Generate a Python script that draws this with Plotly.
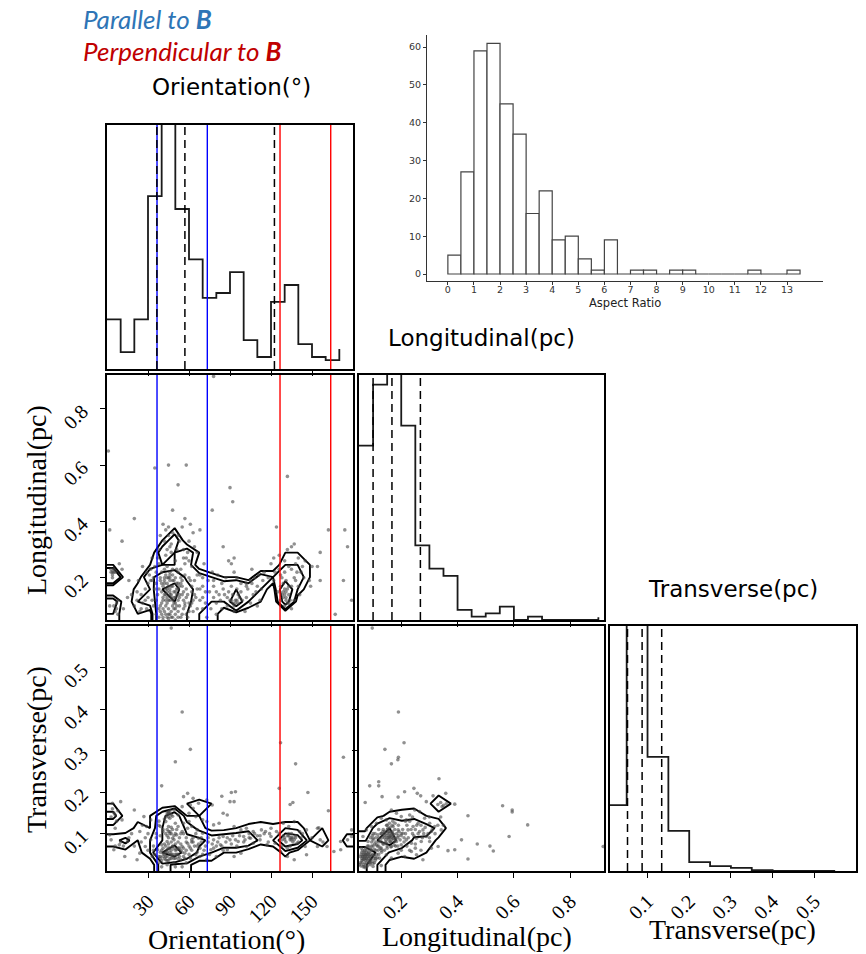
import numpy as np
import plotly.graph_objects as go

W, H = 866, 954

# ---------------- data ----------------
orientation_bins = [0, 10, 20, 30, 40, 50, 60, 70, 80, 90, 100, 110, 120, 130, 140, 150, 160, 170]
orientation_hist = [6.2, 2.1, 6.2, 21.6, 34.0, 20.0, 13.7, 8.9, 9.5, 12.1, 3.6, 1.5, 8.4, 10.5, 3.1, 1.5, 1.1, 2.5]

long_bins = [0.05, 0.10, 0.15, 0.20, 0.25, 0.30, 0.35, 0.40, 0.45, 0.50, 0.55, 0.60, 0.65, 0.70, 0.75, 0.80, 0.85, 0.90]
long_hist = [21.7, 29.3, 34.0, 24.2, 9.3, 6.4, 5.5, 1.25, 0.42, 0.83, 1.67, 0.0, 0.42, 0.0, 0.0, 0.0, 0.0, 0.33]

trans_bins = [0.0, 0.05, 0.10, 0.15, 0.20, 0.25, 0.30, 0.35, 0.40, 0.45, 0.50, 0.55]
trans_hist = [8.2, 34.0, 14.2, 5.0, 1.1, 0.6, 0.4, 0.12, 0.0, 0.0, 0.0, 0.0]

orientation_quantiles = [36.5, 57.0, 122.5]
long_quantiles = [0.100, 0.167, 0.268]
trans_quantiles = [0.052, 0.087, 0.134]

parallel_lines = [36.6, 73.4]
perpendicular_lines = [126.6, 163.7]

aspect_bin_left = [0, 0.5, 1, 1.5, 2, 2.5, 3, 3.5, 4, 4.5, 5, 5.5, 6, 6.5, 7, 7.5, 8, 8.5, 9,
                   9.5, 10, 10.5, 11, 11.5, 12, 12.5, 13]
aspect_counts = [5, 27, 59, 61, 45, 37, 16, 22, 9, 10, 4, 1, 9, 0, 1, 1, 0, 1, 1,
                 0, 0, 0, 0, 1, 0, 0, 1]
aspect_ticks = [0, 1, 2, 3, 4, 5, 6, 7, 8, 9, 10, 11, 12, 13]
aspect_yticks = [0, 10, 20, 30, 40, 50, 60]

orient_ticks = [30, 60, 90, 120, 150]
long_ticks = [0.2, 0.4, 0.6, 0.8]
trans_ticks = [0.1, 0.2, 0.3, 0.4, 0.5]

# scatter: Orientation vs Longitudinal
ol_orient_a = [52, 90, 92, 20, 48, 77, 2, 11, 41, 45, 43, 45, 39, 60, 46, 44, 47, 51, 56, 59,
               56, 60, 64, 66, 71, 85, 91, 93, 89, 93, 95, 106, 111, 105, 114, 102, 124, 126, 132, 135,
               137, 140, 143, 145, 150, 148, 156, 154, 162, 174, 176, 173, 179, 167, 16, 22, 32, 33, 36, 39,
               43, 46, 49, 52, 55, 59, 61, 62, 65, 68, 72, 50, 51, 54, 57, 54, 41, 44, 46, 50,
               52, 41, 40, 43, 45, 49, 51, 56, 60, 63, 29, 24, 22, 15, 78, 80, 78, 83, 76, 84,
               89, 91, 96, 99, 102, 107, 109, 112, 101, 93, 73, 80, 122, 127, 129, 128, 133, 134, 137, 140,
               141, 132, 135, 138, 120, 122, 130, 133, 126, 137, 144, 149, 61, 63, 68, 37, 35, 29, 32, 26,
               23, 18, 9, 11, 156, 1, 35, 45, 58, 132, 78]
ol_long_a = [0.53, 0.52, 0.47, 0.41, 0.44, 0.44, 0.37, 0.33, 0.39, 0.38, 0.37, 0.35, 0.35, 0.33, 0.31, 0.30, 0.29, 0.30, 0.30, 0.29,
             0.27, 0.26, 0.31, 0.29, 0.25, 0.31, 0.25, 0.27, 0.26, 0.22, 0.20, 0.23, 0.21, 0.19, 0.19, 0.18, 0.38, 0.23, 0.30, 0.31,
             0.32, 0.27, 0.24, 0.26, 0.24, 0.19, 0.29, 0.24, 0.37, 0.37, 0.31, 0.19, 0.12, 0.07, 0.19, 0.15, 0.19, 0.12, 0.18, 0.20,
             0.21, 0.20, 0.19, 0.18, 0.17, 0.14, 0.19, 0.11, 0.13, 0.12, 0.15, 0.26, 0.23, 0.23, 0.25, 0.20, 0.17, 0.15, 0.14, 0.13,
             0.12, 0.13, 0.11, 0.10, 0.09, 0.09, 0.10, 0.09, 0.08, 0.08, 0.09, 0.08, 0.12, 0.13, 0.19, 0.15, 0.13, 0.12, 0.09, 0.09,
             0.15, 0.17, 0.14, 0.12, 0.13, 0.14, 0.15, 0.12, 0.08, 0.08, 0.06, 0.07, 0.19, 0.17, 0.15, 0.14, 0.14, 0.12, 0.12, 0.17,
             0.14, 0.11, 0.09, 0.19, 0.25, 0.27, 0.26, 0.24, 0.28, 0.20, 0.20, 0.17, 0.39, 0.36, 0.37, 0.27, 0.24, 0.22, 0.23, 0.24,
             0.19, 0.14, 0.25, 0.23, 0.19, 0.65, 0.59, 0.60, 0.60, 0.56, 0.915]
ol_orient_b = [42, 44, 46, 48, 47, 45, 43, 40, 49, 51, 53, 38, 42, 46, 48, 44, 46, 48, 50, 42,
               38, 36, 52, 54, 58, 40, 44, 50, 56, 58, 60, 62, 64, 66, 68, 70, 34, 30, 28, 26,
               3, 5, 4, 2, 6, 8, 92, 94, 96, 90, 97, 88, 129, 130, 131, 133, 128, 130,
               38, 40, 41, 43, 44, 46, 47, 48, 45, 42, 39, 37, 36, 39, 47, 49, 51, 53, 55, 57,
               55, 57, 53, 50, 45, 41, 59, 61, 63, 35, 33, 31, 28, 25, 33, 38, 42, 48, 53, 58,
               62, 66, 70, 74, 77, 81, 84, 87, 95, 98, 103, 108, 115, 118, 123, 110, 105, 86, 80, 70,
               125, 131, 135, 139, 127, 130, 4, 6, 7, 12, 8]
ol_long_b = [0.18, 0.16, 0.19, 0.17, 0.13, 0.12, 0.14, 0.15, 0.15, 0.16, 0.14, 0.16, 0.20, 0.22, 0.21, 0.06, 0.07, 0.06, 0.07, 0.08,
             0.09, 0.07, 0.08, 0.06, 0.07, 0.22, 0.24, 0.11, 0.12, 0.16, 0.20, 0.17, 0.14, 0.09, 0.16, 0.20, 0.10, 0.13, 0.16, 0.11,
             0.22, 0.23, 0.21, 0.10, 0.08, 0.12, 0.11, 0.12, 0.11, 0.12, 0.13, 0.10, 0.18, 0.16, 0.13, 0.11, 0.20, 0.22,
             0.06, 0.07, 0.09, 0.12, 0.13, 0.16, 0.17, 0.19, 0.20, 0.23, 0.19, 0.14, 0.12, 0.08, 0.08, 0.11, 0.14, 0.17, 0.19, 0.21,
             0.14, 0.10, 0.10, 0.05, 0.055, 0.05, 0.06, 0.10, 0.12, 0.16, 0.19, 0.21, 0.12, 0.14, 0.27, 0.30, 0.33, 0.36, 0.33, 0.27,
             0.24, 0.21, 0.17, 0.19, 0.22, 0.21, 0.18, 0.20, 0.16, 0.18, 0.16, 0.20, 0.22, 0.20, 0.22, 0.10, 0.11, 0.14, 0.11, 0.09,
             0.15, 0.19, 0.17, 0.22, 0.12, 0.10, 0.20, 0.22, 0.11, 0.09, 0.07]
ol_orient_c = [39, 41, 42, 43, 44, 45, 46, 47, 48, 49, 50, 51, 52, 53, 44, 46, 48, 50, 45, 47,
               43, 41, 52, 55, 57, 40, 42, 44, 46, 48, 50, 52, 54, 56, 58, 60, 62, 64, 66, 68,
               70, 72, 75, 78, 82, 85, 88, 92, 95, 93, 91, 94, 98, 102, 106, 110, 113, 130, 131, 132,
               129, 133, 131, 127, 135, 138, 142, 4, 5, 3, 5, 7, 20, 25, 30, 34, 36, 38, 43, 47,
               52, 55, 57]
ol_long_c = [0.10, 0.12, 0.14, 0.16, 0.18, 0.17, 0.15, 0.14, 0.12, 0.13, 0.15, 0.18, 0.16, 0.13, 0.11, 0.12, 0.10, 0.09, 0.07, 0.06,
             0.07, 0.06, 0.06, 0.07, 0.11, 0.18, 0.19, 0.20, 0.21, 0.23, 0.20, 0.22, 0.18, 0.15, 0.13, 0.11, 0.15, 0.19, 0.16, 0.21,
             0.13, 0.11, 0.15, 0.17, 0.14, 0.16, 0.13, 0.14, 0.12, 0.10, 0.12, 0.11, 0.15, 0.17, 0.18, 0.17, 0.16, 0.14, 0.15, 0.16,
             0.13, 0.17, 0.12, 0.21, 0.23, 0.25, 0.22, 0.22, 0.22, 0.23, 0.10, 0.09, 0.10, 0.09, 0.18, 0.20, 0.22, 0.25, 0.28, 0.32,
             0.35, 0.38, 0.41]
ol_orient = ol_orient_a + ol_orient_b + ol_orient_c
ol_long = ol_long_a + ol_long_b + ol_long_c

# scatter: Orientation vs Transverse
ot_orient_a = [50, 138, 40, 84, 91, 94, 90, 93, 147, 126, 10, 4, 56, 59, 63, 67, 61, 55, 49, 52,
               60, 65, 70, 73, 78, 82, 85, 88, 93, 98, 102, 107, 113, 120, 124, 129, 133, 137, 146, 154,
               162, 171, 176, 179, 166, 161, 154, 145, 139, 134, 132, 128, 127, 123, 120, 117, 132, 137, 146, 112,
               107, 102, 98, 93, 88, 83, 78, 76, 80, 73, 68, 65, 61, 57, 54, 50, 46, 43, 39, 37,
               40, 44, 48, 51, 55, 59, 62, 66, 70, 67, 62, 59, 55, 51, 48, 44, 41, 45, 41, 39,
               43, 46, 50, 52, 56, 60, 63, 32, 27, 29, 24, 32, 28, 24, 33, 22, 15, 9, 5, 13,
               6, 2, 11, 20, 73, 77, 85, 90, 96, 100, 105, 156, 141, 171,
               55, 61, 173, 127, 47, 155, 179]
ot_trans_a = [0.273, 0.268, 0.215, 0.190, 0.199, 0.201, 0.177, 0.177, 0.199, 0.209, 0.177, 0.173, 0.189, 0.197, 0.185, 0.173, 0.169, 0.165, 0.157, 0.145,
              0.149, 0.141, 0.133, 0.129, 0.121, 0.125, 0.149, 0.145, 0.117, 0.109, 0.113, 0.105, 0.109, 0.113, 0.105, 0.125, 0.117, 0.129, 0.109, 0.113,
              0.155, 0.081, 0.085, 0.093, 0.057, 0.069, 0.069, 0.069, 0.077, 0.085, 0.065, 0.085, 0.057, 0.077, 0.093, 0.073, 0.045, 0.037, 0.049, 0.085,
              0.077, 0.069, 0.053, 0.045, 0.061, 0.073, 0.085, 0.061, 0.045, 0.037, 0.045, 0.049, 0.041, 0.053, 0.037, 0.041, 0.049, 0.037, 0.045, 0.061,
              0.073, 0.081, 0.089, 0.097, 0.105, 0.113, 0.117, 0.109, 0.101, 0.089, 0.085, 0.077, 0.069, 0.061, 0.069, 0.061, 0.053, 0.117, 0.105, 0.117,
              0.129, 0.137, 0.125, 0.117, 0.125, 0.129, 0.161, 0.133, 0.141, 0.117, 0.105, 0.085, 0.069, 0.053, 0.045, 0.037, 0.081, 0.073, 0.061, 0.045,
              0.113, 0.097, 0.133, 0.157, 0.181, 0.169, 0.093, 0.085, 0.081, 0.093, 0.089, 0.085, 0.105, 0.061,
              0.393, 0.303, 0.284, 0.319, 0.595, 0.114, 0.109]
ot_orient_b = [42, 44, 46, 48, 50, 45, 43, 47, 49, 52, 54, 40, 46, 44, 45, 47, 45, 46, 44, 38,
               40, 44, 50, 55, 58, 60, 62, 64, 66, 68, 70, 75, 80, 85, 35, 34, 36, 38, 30, 28,
               26, 62, 58, 56, 52, 54, 135, 136, 134, 137, 133, 131, 134, 136,
               42, 44, 46, 48, 50, 52, 43, 41, 47, 49, 53, 45, 47, 49, 44, 46, 48, 50, 45, 47,
               43, 38, 36, 34, 39, 56, 58, 60, 63, 65, 67, 69, 72, 74, 77, 82, 87, 92, 95, 100,
               104, 110, 115, 118, 126, 128, 130, 133, 135, 138, 140, 143, 150, 158, 30, 25, 20, 18, 3, 5, 7]
ot_trans_b = [0.050, 0.045, 0.055, 0.050, 0.060, 0.065, 0.070, 0.040, 0.030, 0.050, 0.060, 0.060, 0.100, 0.110, 0.090, 0.100, 0.150, 0.155, 0.150, 0.030,
              0.020, 0.025, 0.020, 0.020, 0.030, 0.050, 0.060, 0.070, 0.055, 0.065, 0.050, 0.050, 0.070, 0.060, 0.050, 0.070, 0.100, 0.120, 0.060, 0.090,
              0.120, 0.080, 0.090, 0.100, 0.080, 0.100, 0.090, 0.080, 0.070, 0.085, 0.100, 0.080, 0.170, 0.175,
              0.040, 0.035, 0.040, 0.045, 0.050, 0.040, 0.055, 0.045, 0.060, 0.065, 0.065, 0.075, 0.080, 0.085, 0.095, 0.105, 0.110, 0.100, 0.140, 0.145,
              0.140, 0.130, 0.090, 0.060, 0.040, 0.045, 0.060, 0.070, 0.090, 0.100, 0.075, 0.080, 0.070, 0.090, 0.075, 0.090, 0.080, 0.095, 0.070, 0.080,
              0.100, 0.095, 0.100, 0.080, 0.100, 0.070, 0.090, 0.095, 0.085, 0.090, 0.080, 0.100, 0.090, 0.080, 0.100, 0.080, 0.070, 0.100, 0.140, 0.150, 0.130]
ot_orient_c = [38, 39, 40, 41, 42, 43, 44, 45, 46, 47, 48, 49, 50, 51, 52, 53, 54, 55, 56, 57,
               39, 41, 43, 45, 47, 49, 51, 53, 44, 46, 45, 48, 42, 58, 61, 63, 66, 69, 71, 74,
               78, 81, 84, 88, 91, 94, 97, 101, 104, 108, 112, 116, 119, 130, 132, 134, 135, 136, 138, 129,
               142, 8, 6, 4, 10, 12, 6, 16, 3]
ot_trans_c = [0.045, 0.055, 0.035, 0.065, 0.075, 0.045, 0.055, 0.035, 0.065, 0.050, 0.070, 0.040, 0.075, 0.050, 0.065, 0.045, 0.075, 0.055, 0.065, 0.040,
              0.095, 0.110, 0.100, 0.105, 0.115, 0.095, 0.110, 0.090, 0.145, 0.148, 0.152, 0.142, 0.135, 0.080, 0.065, 0.080, 0.070, 0.090, 0.060, 0.080,
              0.065, 0.080, 0.070, 0.090, 0.075, 0.085, 0.095, 0.085, 0.090, 0.100, 0.095, 0.105, 0.100, 0.085, 0.095, 0.090, 0.100, 0.090, 0.095, 0.095,
              0.090, 0.155, 0.145, 0.160, 0.080, 0.070, 0.070, 0.090, 0.085]
ot_orient = ot_orient_a + ot_orient_b + ot_orient_c
ot_trans = ot_trans_a + ot_trans_b + ot_trans_c

# scatter: Longitudinal vs Transverse
lt_long_a = [0.165, 0.188, 0.088, 0.120, 0.120, 0.072, 0.132, 0.189, 0.212, 0.245, 0.257, 0.269, 0.289, 0.313, 0.334, 0.358, 0.390, 0.437, 0.470, 0.437,
             0.414, 0.390, 0.366, 0.342, 0.319, 0.307, 0.301, 0.283, 0.265, 0.248, 0.230, 0.218, 0.200, 0.183, 0.165, 0.147, 0.129, 0.112, 0.094, 0.076,
             0.064, 0.082, 0.100, 0.117, 0.135, 0.153, 0.171, 0.189, 0.206, 0.224, 0.242, 0.260, 0.277, 0.289, 0.271, 0.254, 0.236, 0.218, 0.200, 0.183,
             0.165, 0.147, 0.129, 0.112, 0.094, 0.076, 0.058, 0.064, 0.088, 0.106, 0.123, 0.147, 0.165, 0.189, 0.212, 0.236, 0.254, 0.277, 0.307, 0.331,
             0.301, 0.052, 0.070, 0.100, 0.129, 0.159, 0.159, 0.165, 0.174,
             0.560, 0.594, 0.594, 0.649, 0.583, 0.515, 0.527, 0.917, 0.190, 0.210, 0.190, 0.142, 0.097]
lt_trans_a = [0.268, 0.278, 0.215, 0.225, 0.215, 0.175, 0.189, 0.188, 0.201, 0.209, 0.197, 0.191, 0.177, 0.191, 0.232, 0.197, 0.171, 0.143, 0.075, 0.039,
              0.085, 0.061, 0.059, 0.109, 0.117, 0.105, 0.125, 0.137, 0.153, 0.157, 0.145, 0.133, 0.141, 0.149, 0.157, 0.133, 0.137, 0.125, 0.117, 0.109,
              0.093, 0.081, 0.089, 0.097, 0.105, 0.113, 0.117, 0.109, 0.101, 0.109, 0.117, 0.125, 0.109, 0.093, 0.081, 0.089, 0.077, 0.085, 0.073, 0.081,
              0.069, 0.077, 0.065, 0.073, 0.061, 0.049, 0.065, 0.037, 0.033, 0.045, 0.041, 0.049, 0.041, 0.053, 0.045, 0.057, 0.049, 0.037, 0.065, 0.069,
              0.081, 0.025, 0.021, 0.021, 0.023, 0.105, 0.093, 0.085, 0.089,
              0.167, 0.157, 0.152, 0.121, 0.093, 0.070, 0.058, 0.069, 0.393, 0.319, 0.284, 0.303, 0.595]
lt_long_b = [0.070, 0.075, 0.080, 0.085, 0.070, 0.065, 0.075, 0.090, 0.060, 0.160, 0.165, 0.170, 0.155, 0.175, 0.150, 0.140, 0.130, 0.120, 0.110, 0.100,
             0.095, 0.140, 0.120, 0.105,
             0.060, 0.065, 0.070, 0.075, 0.080, 0.085, 0.090, 0.070, 0.060, 0.055, 0.100, 0.110, 0.120, 0.130, 0.140, 0.150, 0.160, 0.170, 0.180, 0.190,
             0.160, 0.155, 0.145, 0.135, 0.200, 0.210, 0.220, 0.240, 0.250, 0.260, 0.270, 0.280, 0.230, 0.190, 0.170, 0.150, 0.120, 0.100, 0.090, 0.080,
             0.090, 0.110, 0.130, 0.150, 0.180, 0.200, 0.220, 0.250, 0.300, 0.320, 0.350, 0.340, 0.300]
lt_trans_b = [0.040, 0.035, 0.045, 0.040, 0.050, 0.045, 0.055, 0.050, 0.030, 0.090, 0.100, 0.095, 0.085, 0.080, 0.100, 0.090, 0.080, 0.070, 0.060, 0.070,
              0.080, 0.060, 0.050, 0.030,
              0.040, 0.050, 0.045, 0.040, 0.050, 0.055, 0.045, 0.060, 0.055, 0.045, 0.050, 0.080, 0.090, 0.100, 0.100, 0.090, 0.095, 0.100, 0.090, 0.095,
              0.080, 0.105, 0.085, 0.075, 0.100, 0.090, 0.120, 0.100, 0.110, 0.100, 0.120, 0.100, 0.130, 0.120, 0.130, 0.120, 0.110, 0.100, 0.090, 0.070,
              0.030, 0.040, 0.060, 0.065, 0.070, 0.060, 0.070, 0.065, 0.090, 0.100, 0.120, 0.140, 0.140]
lt_long_c = [0.055, 0.060, 0.062, 0.066, 0.068, 0.071, 0.073, 0.076, 0.078, 0.081, 0.083, 0.086, 0.088, 0.091, 0.093, 0.096, 0.098, 0.102, 0.104, 0.108,
             0.112, 0.115, 0.118, 0.058, 0.063, 0.069, 0.074, 0.079, 0.084, 0.089, 0.057, 0.065, 0.072, 0.080, 0.090, 0.100,
             0.125, 0.128, 0.132, 0.136, 0.139, 0.142, 0.145, 0.148, 0.151, 0.154, 0.157, 0.160, 0.162, 0.165, 0.168, 0.171, 0.174, 0.177, 0.180, 0.184,
             0.188, 0.192, 0.196, 0.200, 0.205, 0.210, 0.215, 0.158, 0.168, 0.178, 0.148, 0.138, 0.150, 0.163, 0.175, 0.188,
             0.095, 0.100, 0.105, 0.110, 0.115, 0.120, 0.125, 0.130, 0.097, 0.107,
             0.225, 0.235, 0.245, 0.255, 0.265, 0.275, 0.285, 0.295, 0.310, 0.330, 0.230, 0.250, 0.270, 0.215, 0.240,
             0.330, 0.340, 0.350, 0.360, 0.345]
lt_trans_c = [0.030, 0.035, 0.045, 0.025, 0.038, 0.030, 0.048, 0.027, 0.042, 0.035, 0.052, 0.030, 0.046, 0.038, 0.058, 0.033, 0.048, 0.040, 0.062, 0.036,
              0.050, 0.042, 0.060, 0.050, 0.060, 0.055, 0.065, 0.060, 0.070, 0.065, 0.022, 0.020, 0.018, 0.022, 0.025, 0.028,
              0.085, 0.100, 0.090, 0.110, 0.095, 0.105, 0.080, 0.095, 0.110, 0.090, 0.100, 0.115, 0.080, 0.092, 0.105, 0.088, 0.098, 0.110, 0.085, 0.100,
              0.090, 0.105, 0.085, 0.095, 0.110, 0.080, 0.100, 0.125, 0.120, 0.125, 0.120, 0.075, 0.070, 0.068, 0.072, 0.070,
              0.070, 0.085, 0.075, 0.090, 0.070, 0.080, 0.065, 0.055, 0.095, 0.100,
              0.090, 0.110, 0.095, 0.120, 0.105, 0.090, 0.115, 0.100, 0.110, 0.120, 0.060, 0.075, 0.060, 0.130, 0.140,
              0.170, 0.175, 0.168, 0.172, 0.165]
lt_long = lt_long_a + lt_long_b + lt_long_c
lt_trans = lt_trans_a + lt_trans_b + lt_trans_c

# ---------------- layout helpers ----------------
def xdom(p0, p1):
    return [p0 / W, p1 / W]

def ydom(p0, p1):
    return [1 - p1 / H, 1 - p0 / H]

ORI_RANGE = [0, 180]
LONG_RANGE = [0.05, 0.92]
TRANS_RANGE = [0.01, 0.60]
HIST_RANGE = [0, 30.5]

TICKFONT = dict(family="Liberation Serif", size=20, color="black")

fig = go.Figure()


def frame_axis(domain, rng, anchor, tickvals=None, labels=False, is_y=False):
    d = dict(domain=domain, range=rng, anchor=anchor, showgrid=False, zeroline=False,
             showline=True, mirror=True, linecolor="black", linewidth=1.5,
             fixedrange=True)
    if tickvals is None:
        d.update(ticks="", showticklabels=False)
    else:
        d.update(ticks="outside", ticklen=5, tickwidth=1, tickcolor="black",
                 tickvals=tickvals, showticklabels=labels, tickfont=TICKFONT,
                 tickangle=-45)
        if labels:
            d.update(ticklabelstandoff=14 if is_y else 4)
    return d


def add_step(xs, ys, xa, ya):
    fig.add_trace(go.Scatter(x=xs, y=ys, mode="lines",
                             line=dict(color="#1a1a1a", width=1.8, shape="hv"),
                             xaxis=xa, yaxis=ya, hoverinfo="skip"))


def add_points(xs, ys, xa, ya):
    fig.add_trace(go.Scatter(x=xs, y=ys, mode="markers",
                             marker=dict(size=3.6, color="rgba(70,70,70,0.6)"),
                             xaxis=xa, yaxis=ya, hoverinfo="skip"))


def add_contours(xs, ys, xr, yr, xa, ya, nb=20):
    Hh, xe, ye = np.histogram2d(xs, ys, bins=nb, range=[xr, yr])
    flat = np.sort(Hh.ravel())[::-1]
    cs = np.cumsum(flat) / flat.sum()
    levels = []
    for f in 1 - np.exp(-0.5 * np.arange(0.5, 2.1, 0.5) ** 2):
        sel = flat[cs <= f]
        levels.append(sel[-1] if sel.size else flat[0])
    xc = 0.5 * (xe[1:] + xe[:-1])
    yc = 0.5 * (ye[1:] + ye[:-1])
    dx = xe[1] - xe[0]
    dy = ye[1] - ye[0]
    X2 = np.concatenate([xc[0] + np.array([-2, -1]) * dx, xc, xc[-1] + np.array([1, 2]) * dx])
    Y2 = np.concatenate([yc[0] + np.array([-2, -1]) * dy, yc, yc[-1] + np.array([1, 2]) * dy])
    H2 = np.full((nb + 4, nb + 4), Hh.min())
    H2[2:-2, 2:-2] = Hh
    H2[2:-2, 1] = Hh[:, 0]
    H2[2:-2, -2] = Hh[:, -1]
    H2[1, 2:-2] = Hh[0]
    H2[-2, 2:-2] = Hh[-1]
    H2[1, 1] = Hh[0, 0]
    H2[1, -2] = Hh[0, -1]
    H2[-2, 1] = Hh[-1, 0]
    H2[-2, -2] = Hh[-1, -1]
    for v in sorted(set(levels)):
        lv = float(v) + 1e-3
        fig.add_trace(go.Contour(x=X2, y=Y2, z=H2.T,
                                 contours=dict(coloring="none", start=lv, end=lv, size=1),
                                 line=dict(color="black", width=1.9, smoothing=0),
                                 showscale=False, xaxis=xa, yaxis=ya, hoverinfo="skip"))


# ---------------- traces ----------------
add_step(orientation_bins, orientation_hist, "x", "y")
add_step(long_bins, long_hist, "x3", "y3")
add_step(trans_bins, trans_hist, "x6", "y6")

add_points(ol_orient, ol_long, "x2", "y2")
add_contours(ol_orient, ol_long, ORI_RANGE, LONG_RANGE, "x2", "y2")
add_points(ot_orient, ot_trans, "x4", "y4")
add_contours(ot_orient, ot_trans, ORI_RANGE, TRANS_RANGE, "x4", "y4")
add_points(lt_long, lt_trans, "x5", "y5")
add_contours(lt_long, lt_trans, LONG_RANGE, TRANS_RANGE, "x5", "y5")

fig.add_trace(go.Bar(x=aspect_bin_left, y=aspect_counts, width=0.5, offset=0,
                     marker=dict(color="white", line=dict(color="#444444", width=1.2)),
                     xaxis="x7", yaxis="y7", hoverinfo="skip"))

# ---------------- vertical lines ----------------
shapes = []


def vline(xv, xa, ya, color, dash="solid", width=1.4):
    shapes.append(dict(type="line", xref=xa, yref=ya + " domain", x0=xv, x1=xv, y0=0, y1=1,
                       line=dict(color=color, width=width, dash=dash), layer="above"))


for xa, ya in [("x", "y"), ("x2", "y2"), ("x4", "y4")]:
    for v in parallel_lines:
        vline(v, xa, ya, "#0000ff")
    for v in perpendicular_lines:
        vline(v, xa, ya, "#ff0000")
for v in orientation_quantiles:
    vline(v, "x", "y", "black", dash="8px,5px", width=1.5)
for v in long_quantiles:
    vline(v, "x3", "y3", "black", dash="8px,5px", width=1.5)
for v in trans_quantiles:
    vline(v, "x6", "y6", "black", dash="8px,5px", width=1.5)

# ---------------- axes ----------------
P_ORI = xdom(107, 353)
P_MID = xdom(359, 604)
P_RGT = xdom(610, 856)
R1 = ydom(125, 369)
R2 = ydom(375, 620)
R3 = ydom(626, 871)

INSET_FONT = dict(family="DejaVu Sans", size=9.5, color="#333333")
layout = dict(
    width=W, height=H, margin=dict(l=0, r=0, t=0, b=0),
    paper_bgcolor="white", plot_bgcolor="white", showlegend=False,
    xaxis=frame_axis(P_ORI, ORI_RANGE, "y", orient_ticks, False),
    yaxis=frame_axis(R1, HIST_RANGE, "x"),
    xaxis2=frame_axis(P_ORI, ORI_RANGE, "y2", orient_ticks, False),
    yaxis2=frame_axis(R2, LONG_RANGE, "x2", long_ticks, True, True),
    xaxis3=frame_axis(P_MID, LONG_RANGE, "y3", long_ticks, False),
    yaxis3=frame_axis(R2, HIST_RANGE, "x3"),
    xaxis4=frame_axis(P_ORI, ORI_RANGE, "y4", orient_ticks, True),
    yaxis4=frame_axis(R3, TRANS_RANGE, "x4", trans_ticks, True, True),
    xaxis5=frame_axis(P_MID, LONG_RANGE, "y5", long_ticks, True),
    yaxis5=frame_axis(R3, TRANS_RANGE, "x5", trans_ticks, False, True),
    xaxis6=frame_axis(P_RGT, TRANS_RANGE, "y6", trans_ticks, True),
    yaxis6=frame_axis(R3, HIST_RANGE, "x6"),
    xaxis7=dict(domain=xdom(427, 823), range=[-0.8, 14.38], anchor="y7", showgrid=False,
                zeroline=False, showline=True, mirror=False, linecolor="#333333", linewidth=1.2,
                ticks="outside", ticklen=3, tickwidth=1, tickcolor="#333333",
                tickvals=aspect_ticks, tickfont=INSET_FONT, ticklabelstandoff=-4,
                fixedrange=True),
    yaxis7=dict(domain=ydom(35, 281), range=[-1.85, 63.2], anchor="x7", showgrid=False,
                zeroline=False, showline=True, mirror=False, linecolor="#333333", linewidth=1.2,
                ticks="outside", ticklen=3, tickwidth=1, tickcolor="#333333",
                tickvals=aspect_yticks, tickfont=INSET_FONT, fixedrange=True),
    shapes=shapes,
)
fig.update_layout(**layout)

# ---------------- text ----------------
def ann(text, px, py, font, xanchor="center", yanchor="middle", angle=0):
    fig.add_annotation(text=text, x=px / W, y=1 - py / H, xref="paper", yref="paper",
                       showarrow=False, xanchor=xanchor, yanchor=yanchor, textangle=angle,
                       font=font)

ann("<i>Parallel to <b>B</b></i>", 81, 19,
    dict(family="Lato", size=26, color="#2e75b6"), xanchor="left")
ann("<i>Perpendicular to <b>B</b></i>", 81, 51,
    dict(family="Lato", size=26, color="#c00000"), xanchor="left")

DIAG = dict(family="DejaVu Sans", size=23, color="black")
ann("Orientation(°)", 231, 87, DIAG)
ann("Longitudinal(pc)", 481, 338, DIAG)
ann("Transverse(pc)", 733, 589, DIAG)

LAB = dict(family="Liberation Serif", size=28, color="black")
ann("Orientation(°)", 226, 939, LAB)
ann("Longitudinal(pc)", 477, 936, LAB)
ann("Transverse(pc)", 732, 929, LAB)
ann("Longitudinal(pc)", 36, 500, LAB, angle=-90)
ann("Transverse(pc)", 36, 750, LAB, angle=-90)

ann("Aspect Ratio", 625, 303, dict(family="DejaVu Sans", size=11.5, color="#222222"))

fig.write_html("out.html")
